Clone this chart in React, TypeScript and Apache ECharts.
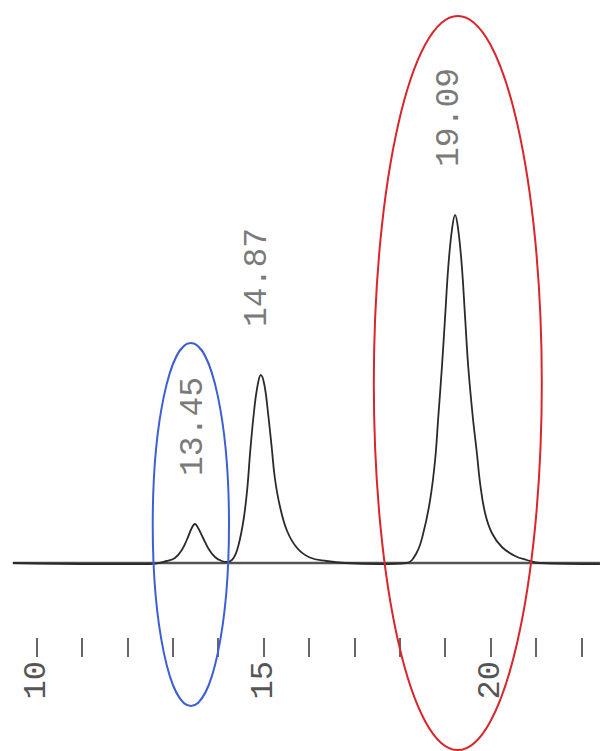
import React, { useEffect, useRef } from "react";
import * as echarts from "echarts";

// Retention time (min) and detector signal of the chromatogram trace
const traceTime = [
  9.48, 11.4, 12.5, 12.87, 13.05, 13.2, 13.31, 13.42, 13.49, 13.56, 13.67, 13.78, 13.93, 14.08, 14.2,
  14.34, 14.45, 14.56, 14.64, 14.71, 14.79, 14.86, 14.94, 15.02, 15.1, 15.18, 15.25, 15.36, 15.52, 15.74,
  16.02, 16.39, 16.8, 17.57, 18.15, 18.37, 18.52, 18.67, 18.78, 18.85, 18.93, 19.0, 19.07, 19.15, 19.22,
  19.29, 19.37, 19.44, 19.51, 19.61, 19.7, 19.77, 19.88, 20.03, 20.25, 20.54, 20.8, 21.09, 22.41,
];
const traceSignal = [
  0, -1, -1, 2, 5, 13, 23, 35, 39, 35, 25, 15, 6, 2, 1,
  5, 18, 43, 73, 113, 151, 175, 188, 178, 150, 116, 85, 57, 32, 15,
  5.5, 2, 0, -1, 0, 10, 30, 63, 103, 146, 196, 246, 296, 333, 348,
  333, 296, 246, 196, 146, 110, 80, 50, 30, 16, 7, 3, 0, -1,
];

// Baseline extent
const baselineTime = [9.48, 22.41];
const baselineSignal = [0, 0];

// Peak annotations
const peakTimes = [13.45, 14.87, 19.09];
const peakHeights = [39, 188, 348];

// Axis (range padded by one step so the trace runs past 10 and 22)
const axisMin = 9;
const axisMax = 23;
const axisStep = 1;
const labeledTicks = [10, 15, 20];

// Highlight ellipses (data units)
const ellipseCenterTime = [13.4, 19.28];
const ellipseCenterSignal = [38.5, 180];
const ellipseHalfWidth = [0.84, 1.85];
const ellipseHalfHeight = [181.5, 367];
const ellipseColors = ["#3d5fd4", "#d9262b"];

export default function App() {
  const ref = useRef<HTMLDivElement>(null);

  useEffect(() => {
    if (!ref.current) return;
    const chart = echarts.init(ref.current, null, { renderer: "svg" });
    const font = "'Liberation Mono', 'DejaVu Sans Mono', monospace";

    chart.setOption({
      animation: false,
      backgroundColor: "#ffffff",
      grid: { left: 41.1, right: 26.3, top: 0, bottom: 113 },
      xAxis: {
        type: "value",
        position: "bottom",
        min: axisMin,
        max: axisMax,
        interval: axisStep,
        axisLine: { show: false, onZero: false },
        splitLine: { show: false },
        axisTick: { show: true, length: 19, lineStyle: { color: "#666", width: 2 } },
        axisLabel: {
          showMinLabel: true,
          showMaxLabel: true,
          rotate: 90,
          margin: 23,
          fontFamily: font,
          fontSize: 32,
          color: "#555",
          formatter: (v: number) => (labeledTicks.indexOf(v) >= 0 ? String(v) : ""),
        },
      },
      yAxis: { type: "value", min: -75, max: 563, show: false },
      series: [
        {
          type: "line",
          data: baselineTime.map((t, i) => [t, baselineSignal[i]]),
          symbol: "none",
          lineStyle: { color: "#555", width: 2.5 },
          z: 1,
        },
        {
          type: "line",
          data: traceTime.map((t, i) => [t, traceSignal[i]]),
          symbol: "none",
          smooth: 0.4,
          lineStyle: { color: "#2a2a2a", width: 1.8 },
          z: 2,
        },
        {
          type: "scatter",
          data: peakTimes.map((t, i) => [t, peakHeights[i]]),
          symbolSize: 0,
          silent: true,
          label: {
            show: true,
            position: "top",
            distance: 48,
            rotate: 90,
            align: "left",
            verticalAlign: "middle",
            fontFamily: font,
            fontSize: 33,
            color: "#555",
            formatter: (p: any) => p.value[0].toFixed(2),
          },
          z: 3,
        },
      ],
    });

    const graphics = ellipseCenterTime.map((ct, i) => {
      const c = chart.convertToPixel({ gridIndex: 0 }, [ct, ellipseCenterSignal[i]]) as number[];
      const e = chart.convertToPixel({ gridIndex: 0 }, [
        ct + ellipseHalfWidth[i],
        ellipseCenterSignal[i] + ellipseHalfHeight[i],
      ]) as number[];
      return {
        type: "ellipse",
        shape: { cx: c[0], cy: c[1], rx: e[0] - c[0], ry: c[1] - e[1] },
        style: { fill: "none", stroke: ellipseColors[i], lineWidth: 2 },
        z: 10,
        silent: true,
      };
    });
    chart.setOption({ graphic: graphics });

    return () => chart.dispose();
  }, []);

  return (
    <div
      style={{
        position: "absolute",
        left: 0,
        top: 0,
        width: 603,
        height: 751,
        overflow: "hidden",
        background: "#fff",
      }}
    >
      <div ref={ref} style={{ position: "absolute", left: -50, top: 0, width: 703, height: 751 }} />
    </div>
  );
}
